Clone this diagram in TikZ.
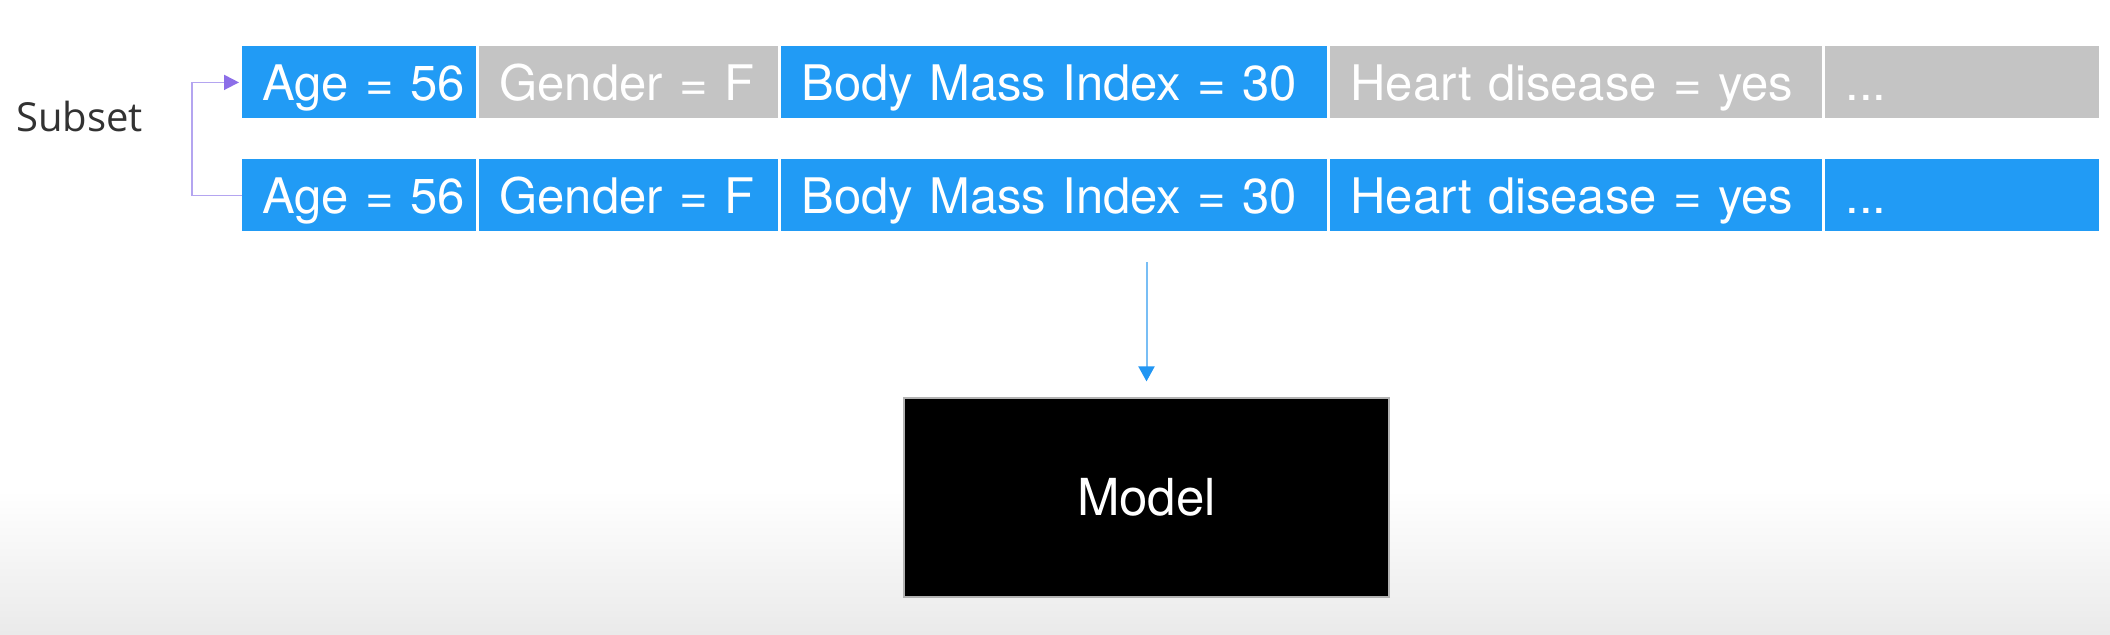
\documentclass[tikz,border=0pt]{standalone}
\usepackage{fontspec}
\setmainfont{TeX Gyre Heros}
\newfontfamily\subsetfont{Open Sans}
\usetikzlibrary{arrows.meta,positioning}
\definecolor{cellblue}{RGB}{33,155,245}
\definecolor{cellgray}{RGB}{196,196,196}
\definecolor{arrowblue}{RGB}{120,190,245}
\definecolor{tipblue}{RGB}{33,150,243}
\definecolor{linepurple}{RGB}{180,165,240}
\definecolor{tippurple}{RGB}{140,110,232}
\definecolor{bgbottom}{RGB}{234,234,234}
\definecolor{subsettext}{RGB}{50,50,50}
\tikzset{
  cell/.style={rectangle, anchor=north west, inner xsep=0pt, inner ysep=0pt,
    minimum height=36pt, text height=19.5pt, text depth=1.5pt, align=left,
    text=white, font=\fontsize{24.5pt}{28pt}\selectfont},
  bluecell/.style={cell, fill=cellblue},
  graycell/.style={cell, fill=cellgray},
}
\newcommand{\celltxt}[1]{\hspace*{10pt}#1}
\begin{document}
\begin{tikzpicture}[x=0.5pt,y=-0.5pt]
  \useasboundingbox (0,0) rectangle (2110,634);
  \fill[white] (0,0) rectangle (2110,634);
  \shade[top color=white, bottom color=bgbottom] (0,490) rectangle (2110,634);

  % top row (subset)
  \node[bluecell, text width=117pt]   (t1) at (242,46)  {\celltxt{Age = 56}};
  \node[graycell, text width=149.5pt] (t2) at (479,46)  {\celltxt{Gender = F}};
  \node[bluecell, text width=273pt]   (t3) at (781,46)  {\celltxt{Body Mass Index = 30}};
  \node[graycell, text width=246pt]   (t4) at (1330,46) {\celltxt{Heart disease = yes}};
  \node[graycell, text width=137pt]   (t5) at (1825,46) {\celltxt{...}};

  % bottom row (full)
  \node[bluecell, text width=117pt]   (b1) at (242,159)  {\celltxt{Age = 56}};
  \node[bluecell, text width=149.5pt] (b2) at (479,159)  {\celltxt{Gender = F}};
  \node[bluecell, text width=273pt]   (b3) at (781,159)  {\celltxt{Body Mass Index = 30}};
  \node[bluecell, text width=246pt]   (b4) at (1330,159) {\celltxt{Heart disease = yes}};
  \node[bluecell, text width=137pt]   (b5) at (1825,159) {\celltxt{...}};

  % subset label
  \node[anchor=west, inner sep=0pt, text=subsettext,
        font=\subsetfont\fontsize{20pt}{24pt}\selectfont] (subset) at (16,116) {Subset};

  % purple connector
  \draw[linepurple, line width=0.9pt, shorten >=1.5pt,
        -{Triangle[width=7.5pt,length=7.5pt,color=tippurple]}]
    (b1.west) -- ++(-50,0) |- (t1.west);

  % model
  \node[rectangle, fill=black, draw=gray!60, line width=0.6pt,
        minimum width=242.5pt, minimum height=99.5pt, text=white,
        font=\fontsize{25.5pt}{30pt}\selectfont] (model) at (1146.5,497.5) {Model};

  \coordinate (src) at (1146.5,262);
  \draw[arrowblue, line width=1pt, shorten >=8pt,
        -{Triangle[width=8pt,length=7.5pt,color=tipblue]}]
    (src) -- (model.north);
\end{tikzpicture}
\end{document}
